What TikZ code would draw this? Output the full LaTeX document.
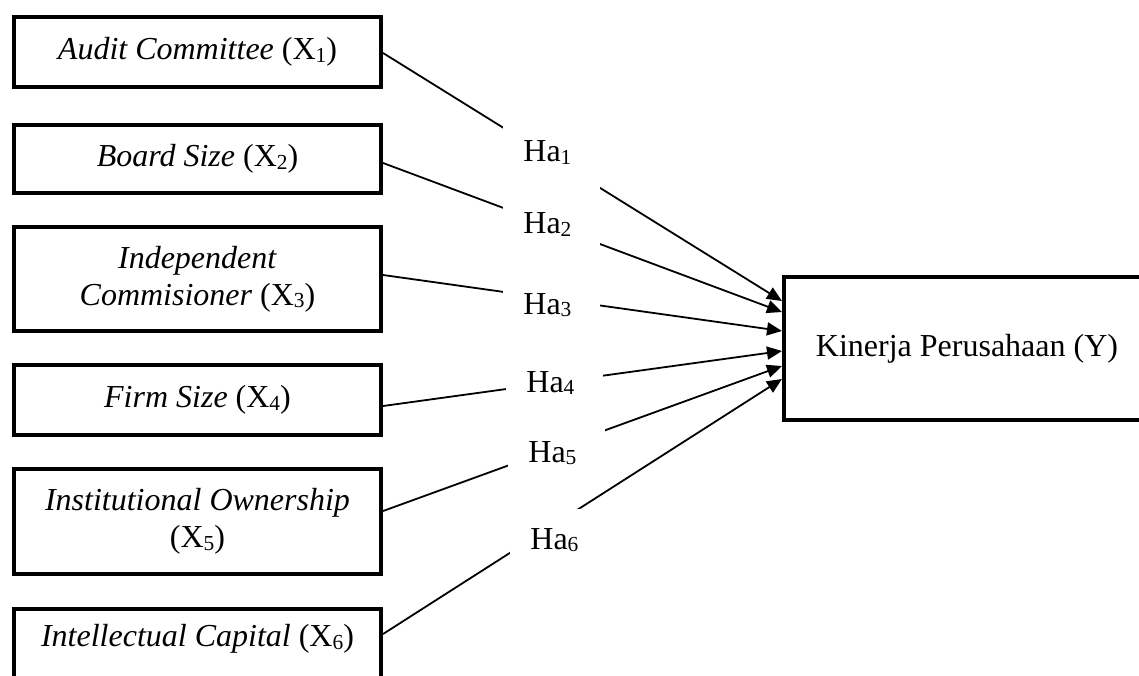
\documentclass[tikz,border=0pt]{standalone}
\usepackage{fontspec}
\setmainfont{Liberation Serif}
\usetikzlibrary{arrows.meta}
\newcommand\sbs[1]{\raisebox{-1.2pt}{\fontsize{10.7}{12}\selectfont #1}}
\begin{document}
\begin{tikzpicture}[x=0.5pt,y=-0.5pt,
  font=\fontsize{16}{18.5}\selectfont,
  var/.style={draw, line width=1.8pt, minimum width=183.75pt, align=center, inner sep=2pt},
  dep/.style={draw, line width=1.8pt, minimum width=183.25pt, minimum height=71.75pt, inner sep=2pt},
  hyp/.style={fill=white, inner xsep=10pt, inner ysep=0pt, text width=28.5pt, align=left, minimum height=37pt, anchor=west},
  conn/.style={line width=0.9pt, -{Triangle[length=7.5pt,width=6.5pt]}}]
\useasboundingbox (0,0) rectangle (1139,675);
\clip (0,0) rectangle (1139,675);
\node[var, minimum height=35.25pt] (x1) at (197.5,52) {\textit{Audit Committee} (X\sbs{1})};
\node[var, minimum height=34pt] (x2) at (197.5,159) {\textit{Board Size} (X\sbs{2})};
\node[var, minimum height=52.25pt] (x3) at (197.5,279) {\textit{Independent}\\\textit{Commisioner} (X\sbs{3})};
\node[var, minimum height=35.25pt] (x4) at (197.5,400) {\textit{Firm Size} (X\sbs{4})};
\node[var, minimum height=52.75pt] (x5) at (197.5,521.5) {\textit{Institutional Ownership}\\(X\sbs{5})};
\node[var, text height=17pt, text depth=30pt, anchor=north] (x6) at (197.5,607) {\textit{Intellectual Capital} (X\sbs{6})};
\node[dep] (y) at (967,348.5) {Kinerja Perusahaan (Y)};
\draw[conn] ([yshift=-0.5pt]x1.east) -- ([yshift=23.75pt]y.west);
\draw[conn] ([yshift=-2pt]x2.east) -- ([yshift=18.25pt]y.west);
\draw[conn] ([yshift=2pt]x3.east) -- ([yshift=8.75pt]y.west);
\draw[conn] ([yshift=-3pt]x4.east) -- ([yshift=-1.25pt]y.west);
\draw[conn] ([yshift=5.25pt]x5.east) -- ([yshift=-8.75pt]y.west);
\draw[conn] ([yshift=-13.5pt]x6.north east) -- ([yshift=-15.25pt]y.west);
\node[hyp] (h1) at (503,152.5) {Ha\sbs{1}};
\node[hyp] (h2) at (503,224.5) {Ha\sbs{2}};
\node[hyp] (h3) at (503,305) {Ha\sbs{3}};
\node[hyp] (h4) at (506,383) {Ha\sbs{4}};
\node[hyp] (h5) at (508,453) {Ha\sbs{5}};
\node[hyp, minimum height=31pt] (h6) at (510,540) {Ha\sbs{6}};
\end{tikzpicture}
\end{document}
